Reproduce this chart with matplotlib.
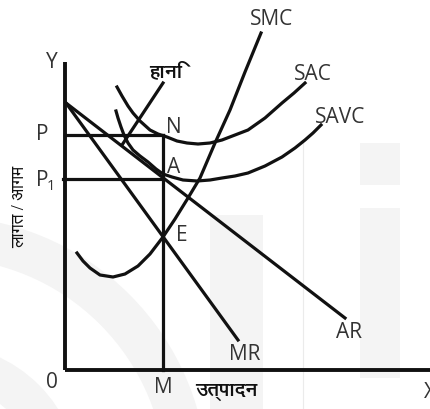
import matplotlib
matplotlib.use("Agg")
import matplotlib.pyplot as plt
from matplotlib import font_manager as fm
from matplotlib.patches import Rectangle, Wedge

# ---- data (diagram units; y grows downward) ----
origin = (65, 370)
y_axis_top = 62
x_axis_right = 430

p_level = 135
p1_level = 179
m_output = 163

ar_x = [66, 345]
ar_y = [103, 318]
mr_x = [66, 238]
mr_y = [103, 340]

smc_x = [77, 83, 90, 100, 113, 125, 138, 150, 163, 175, 188, 200, 215, 230, 245, 261]
smc_y = [253, 261, 268, 275, 277, 274, 266, 254, 237, 219, 198, 178, 143, 110, 72, 33]

sac_x = [117, 122, 128, 133, 140, 150, 158, 167, 177, 187, 198, 210, 222, 235, 248, 265, 282, 294, 305]
sac_y = [87, 96, 106, 113, 121, 130, 134, 137, 141, 143, 144, 143, 140, 135, 130, 118, 103, 93, 83]

savc_x = [116, 118, 121, 124, 128, 133, 140, 148, 156, 163, 172, 183, 197, 210, 222, 235, 248, 265, 282, 295, 305, 313, 321]
savc_y = [111, 118, 127, 135, 143, 150, 156, 162, 169, 174, 177, 180, 181, 180, 178, 176, 173, 166, 157, 148, 140, 133, 125]

loss_ptr_x = [163, 122]
loss_ptr_y = [83, 145]

# label text -> (left x, baseline y)
labels = {
    "SMC": (250, 25), "SAC": (294, 80), "SAVC": (315, 123),
    "N": (166, 133), "A": (167, 173), "E": (176, 241),
    "MR": (229, 360), "AR": (336, 338),
    "Y": (46, 68), "P": (36, 140), "0": (46, 388), "M": (154, 393), "X": (424, 398),
}
p1_label = (36, 186)
loss_label = ("हानि", (149, 62))
x_title = ("उत्पादन", (195, 382))
y_title = ("लागत / आगम", (20, 207))

# ---- fonts ----
deva = [f.name for f in fm.fontManager.ttflist
        if any(k in f.name for k in ("Devanagari", "Lohit", "Mukta", "Hind", "Mangal", "FreeSans", "Gargi", "Kalimati"))]
fam_latin = ["Open Sans", "DejaVu Sans"]
fam_hindi = list(dict.fromkeys(deva)) + ["Noto Sans", "DejaVu Sans"]

fig = plt.figure(figsize=(4.30, 4.09), dpi=100)
ax = fig.add_axes([0, 0, 1, 1])
ax.set_xlim(0, 430)
ax.set_ylim(409, 0)
ax.axis("off")

# faint watermark shapes
wm = "#f4f4f4"
ax.add_patch(Rectangle((360, 143), 40, 42, color=wm, lw=0, zorder=0))
ax.add_patch(Rectangle((360, 208), 40, 170, color=wm, lw=0, zorder=0))
ax.add_patch(Rectangle((210, 215), 53, 194, color=wm, lw=0, zorder=0))
ax.plot([303, 303], [143, 409], color="#ebebeb", lw=0.8, zorder=0)
ax.add_patch(Wedge((-60, 484), 268, -90, 0, width=42, color=wm, lw=0, zorder=0))
ax.add_patch(Wedge((-60, 484), 140, -90, 0, width=40, color=wm, lw=0, zorder=0))

k = "#111111"
lw = 2.3
# axes
ax.plot([origin[0], origin[0]], [y_axis_top, origin[1]], color=k, lw=2.8, solid_capstyle="butt")
ax.plot([origin[0], x_axis_right], [origin[1], origin[1]], color=k, lw=2.8, solid_capstyle="butt")
# guides
ax.plot([origin[0], m_output], [p_level, p_level], color=k, lw=lw)
ax.plot([origin[0] - 2, m_output], [p1_level, p1_level], color=k, lw=lw)
ax.plot([m_output, m_output], [p_level, origin[1]], color=k, lw=lw)
# curves
ax.plot(ar_x, ar_y, color=k, lw=lw)
ax.plot(mr_x, mr_y, color=k, lw=lw)
ax.plot(smc_x, smc_y, color=k, lw=lw)
ax.plot(sac_x, sac_y, color=k, lw=lw)
ax.plot(savc_x, savc_y, color=k, lw=lw)
ax.plot(loss_ptr_x, loss_ptr_y, color=k, lw=lw)

tc = "#333333"
fs = 15
for t, (x, y) in labels.items():
    ax.text(x, y, t, fontsize=fs, color=tc, family=fam_latin, va="baseline", ha="left")
ax.text(p1_label[0], p1_label[1], "P", fontsize=fs, color=tc, family=fam_latin, va="baseline", ha="left")
ax.text(p1_label[0] + 11, p1_label[1] + 4, "1", fontsize=10.5, color=tc, family=fam_latin, va="baseline", ha="left")
ax.text(*loss_label[1], loss_label[0], fontsize=14, color=k, family=fam_hindi, va="top", ha="left", fontweight="bold")
ax.text(*x_title[1], x_title[0], fontsize=14, color=k, family=fam_hindi, va="top", ha="left", fontweight="bold")
ax.text(*y_title[1], y_title[0], fontsize=12.5, color=k, family=fam_hindi, va="center", ha="center", rotation=90)

fig.savefig("out.png", dpi=100)
